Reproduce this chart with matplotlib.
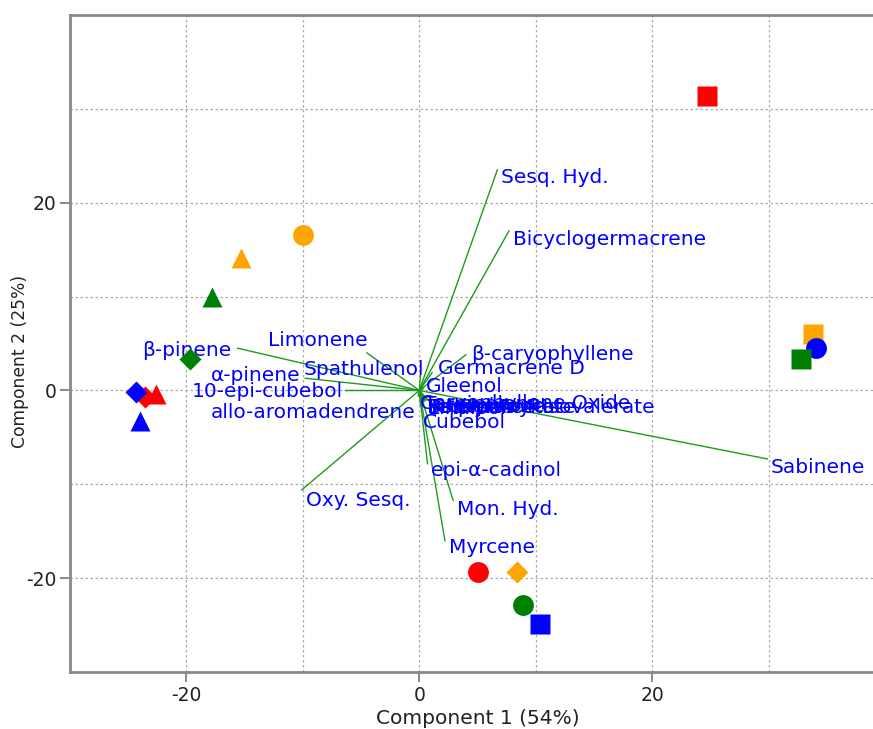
import numpy as np
import matplotlib.pyplot as plt

plt.rcParams['font.family'] = ['DejaVu Sans']
plt.rcParams['axes.unicode_minus'] = False

# sample scores
pt_x = [24.7, -10.0, -15.3, -17.8, -19.7, -23.6, -24.3, -22.6, -24.0, 33.8, 34.1, 32.8, 5.0, 8.4, 8.9, 10.4]
pt_y = [31.4, 16.6, 14.1, 10.0, 3.4, -0.7, -0.2, -0.4, -3.3, 6.0, 4.5, 3.4, -19.3, -19.3, -22.9, -24.9]
pt_col = ['red', 'orange', 'orange', 'green', 'green', 'red', 'blue', 'red', 'blue',
          'orange', 'blue', 'green', 'red', 'orange', 'green', 'blue']
pt_shape = ['s', 'o', '^', '^', 'D', 'D', 'D', '^', '^', 's', 'o', 's', 'o', 'D', 'o', 's']

# loadings (scaled)
var_names = ['Sesq. Hyd.', 'Bicyclogermacrene', 'β-caryophyllene', 'Germacrene D', 'Gleenol',
             'Spathulenol', 'Limonene', 'β-pinene', 'α-pinene', '10-epi-cubebol',
             'allo-aromadendrene', 'Oxy. Sesq.', 'epi-α-cadinol', 'Mon. Hyd.', 'Myrcene',
             'Cubebol', 'Sabinene',
             'Terpinolene', 'Linalool', 'γ-terpinene', 'Terpinen-4-ol',
             'Caryophyllene Oxide', 'Bornyl Acetate', 'Geranyl Isovalerate']
var_x = [6.7, 7.7, 4.0, 1.1, 0.35, 0.1, -4.5, -15.6, -9.8, -6.4,
         -0.1, -10.1, 0.7, 2.9, 2.2, 0.1, 29.9,
         0.3, 0.5, 0.6, 0.4, 0.2, 0.5, 0.8]
var_y = [23.5, 17.0, 3.8, 1.9, 0.2, 1.6, 4.0, 4.5, 1.3, 0.0,
         -0.6, -10.6, -7.8, -11.7, -16.0, -1.6, -7.3,
         -0.9, -1.1, -1.0, -1.2, -0.8, -1.0, -1.1]
# label placement: ha, offset in pixels (dx, dy)
lab_pos = [('left', 4, -8), ('left', 4, -9), ('left', 5, 0), ('left', 6, 4), ('left', 2, 2),
           ('right', 4, 6), ('right', 1, 12), ('right', -6, -2), ('right', -5, 3), ('right', -2, -1),
           ('right', -3, -16), ('left', 4, -11), ('left', 3, -7), ('left', 4, -9), ('left', 4, -7),
           ('left', 2, -17), ('left', 3, -9),
           ('left', 1, -6), ('left', 3, -8), ('left', 2, -7), ('left', 4, -6),
           ('left', -2, -6), ('left', 2, -8), ('left', 28, -7)]

fig = plt.figure(figsize=(8.73, 7.29), dpi=100)
ax = fig.add_axes([0.0802, 0.0782, 0.9336, 0.9012])

for x, y, name, (ha, dx, dy) in zip(var_x, var_y, var_names, lab_pos):
    ax.plot([0, x], [0, y], color='#1f9a1f', lw=1.0, zorder=2)
    ax.annotate(name, (x, y), xytext=(dx, dy), textcoords='offset pixels',
                ha=ha, va='center', color='#0000ff', fontsize=14.5, zorder=3)

for x, y, c, m in zip(pt_x, pt_y, pt_col, pt_shape):
    ms = 11 if m == 'D' else 15
    ax.plot(x, y, marker=m, color=c, ms=ms, mec='none', ls='none', zorder=4)

ax.set_xlim(-30, 40)
ax.set_ylim(-30, 40)
ax.set_xticks([-20, 0, 20])
ax.set_yticks([-20, 0, 20])
ax.set_xticks([-10, 10, 30], minor=True)
ax.set_yticks([-10, 10, 30], minor=True)
ax.tick_params(which='minor', length=0)
ax.tick_params(which='major', length=7, width=1.2, color='#777777', labelsize=13.5,
               labelcolor='#222222', pad=3)
ax.grid(True, which='both', color='#aaaaaa', ls=(0, (2, 2)), lw=0.9)
ax.set_axisbelow(True)
for s in ax.spines.values():
    s.set_color('#888888')
    s.set_linewidth(2.0)
ax.set_xlabel('Component 1 (54%)', fontsize=14.5, color='#222222')
ax.set_ylabel('Component 2 (25%)', fontsize=12.3, color='#222222')
ax.xaxis.set_label_coords(0.5, -0.056)
ax.yaxis.set_label_coords(-0.050, 0.473)

fig.savefig('out.png', dpi=100)
